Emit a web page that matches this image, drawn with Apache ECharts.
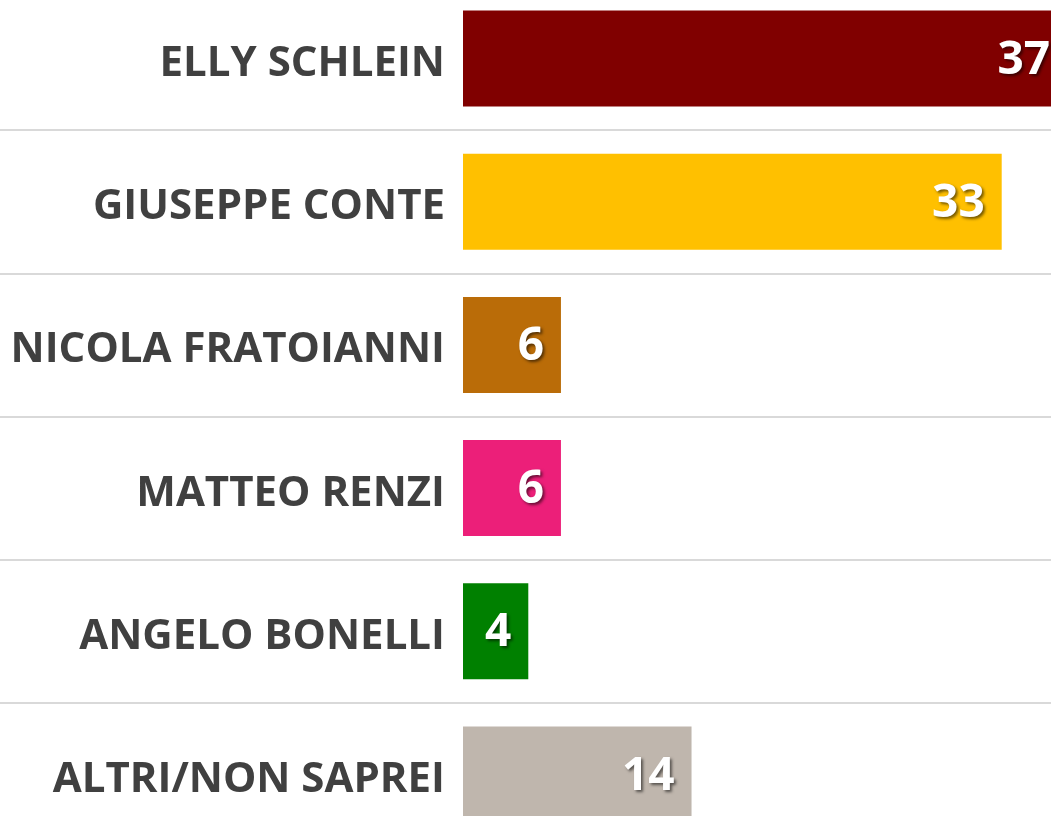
<!DOCTYPE html>
<html>
<head>
<meta charset="utf-8">
<script src="https://cdn.jsdelivr.net/npm/echarts@6/dist/echarts.min.js"></script>
<style>
  html, body { margin: 0; padding: 0; background: #fff; overflow: hidden; }
  #chart { width: 1051px; height: 816px; }
</style>
</head>
<body>
<div id="chart"></div>
<script>
// candidati e percentuali
const candidati = ['ELLY SCHLEIN', 'GIUSEPPE CONTE', 'NICOLA FRATOIANNI', 'MATTEO RENZI', 'ANGELO BONELLI', 'ALTRI/NON SAPREI'];
const valori = [37, 33, 6, 6, 4, 14];
const colori = ['#800000', '#FFC000', '#BA6C08', '#EC1F79', '#008000', '#BFB6AD'];

const chart = echarts.init(document.getElementById('chart'));

const option = {
  animation: false,
  backgroundColor: '#fff',
  grid: {
    left: 463,
    right: -16,   // la barra più lunga esce dal bordo
    top: -13,
    bottom: -30,
    containLabel: false,
    outerBoundsMode: 'none'
  },
  xAxis: {
    type: 'value',
    min: 0,
    max: 'dataMax',
    show: false
  },
  yAxis: {
    type: 'category',
    inverse: true,
    data: candidati,
    axisLine: { show: false },
    axisTick: {
      show: true,
      length: 463,
      lineStyle: { color: '#d9d9d9', width: 2 }
    },
    splitLine: {
      show: true,
      lineStyle: { color: '#d9d9d9', width: 2 }
    },
    axisLabel: {
      margin: 18,
      formatter: '{n|{value}}',
      rich: {
        n: {
          padding: [11, 0, 0, 0],
          color: '#404040',
          fontFamily: "'Open Sans', sans-serif",
          fontWeight: 'bold',
          fontSize: 42
        }
      }
    }
  },
  series: [
    {
      type: 'bar',
      barWidth: 96,
      data: valori.map((v, i) => ({ value: v, itemStyle: { color: colori[i] } })),
      label: {
        show: true,
        position: 'insideRight',
        distance: 17,
        formatter: '{v|{c}}',
        rich: {
          v: {
            padding: [4, 0, 0, 0],
            color: '#fff',
            fontFamily: "'Open Sans', sans-serif",
            fontWeight: 'bold',
            fontSize: 46,
            textShadowColor: 'rgba(0,0,0,0.55)',
            textShadowBlur: 3,
            textShadowOffsetX: 2,
            textShadowOffsetY: 2
          }
        }
      }
    }
  ]
};

chart.setOption(option);
</script>
</body>
</html>
